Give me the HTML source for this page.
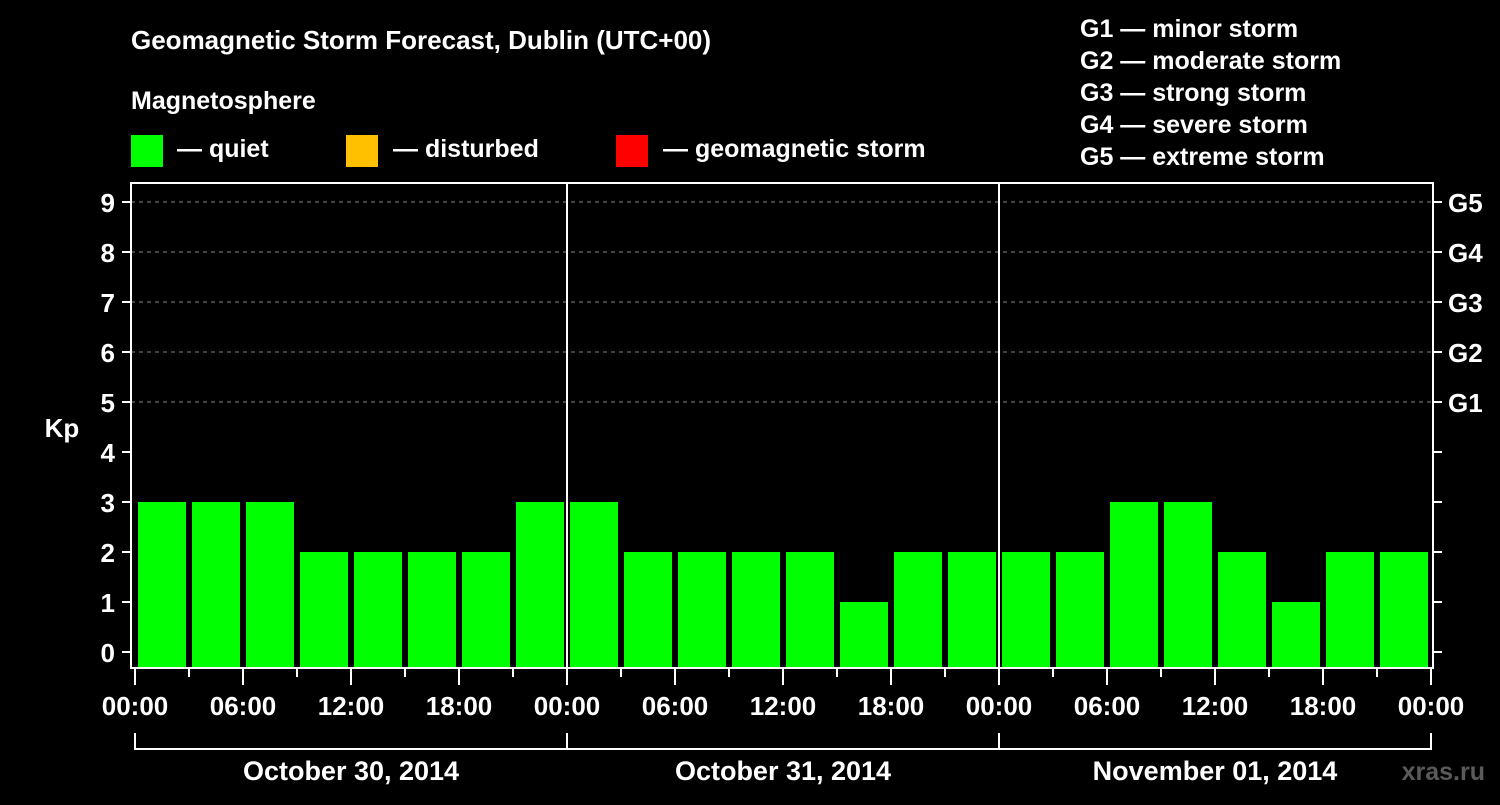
<!DOCTYPE html>
<html><head><meta charset="utf-8"><style>
html,body{margin:0;padding:0;background:#000;}
svg text{font-family:"Liberation Sans",Arial,sans-serif;font-weight:bold;fill:#fff;}
</style></head><body>
<svg id="chart" width="1500" height="800" viewBox="0 0 1500 800" xmlns="http://www.w3.org/2000/svg">
<rect width="1500" height="800" fill="#000"/>
<text x="131" y="49" font-size="26">Geomagnetic Storm Forecast, Dublin (UTC+00)</text>
<text x="131" y="109" font-size="25">Magnetosphere</text>
<g>
<rect x="131" y="135" width="32" height="32" fill="#00ff00"/>
<text x="177" y="157" font-size="25">— quiet</text>
<rect x="346" y="135" width="32" height="32" fill="#ffc000"/>
<text x="393" y="157" font-size="25">— disturbed</text>
<rect x="616" y="135" width="32" height="32" fill="#ff0000"/>
<text x="663" y="157" font-size="25">— geomagnetic storm</text>
</g>
<g font-size="25">
<text x="1080" y="37">G1 — minor storm</text>
<text x="1080" y="69">G2 — moderate storm</text>
<text x="1080" y="101">G3 — strong storm</text>
<text x="1080" y="133">G4 — severe storm</text>
<text x="1080" y="165">G5 — extreme storm</text>
</g>
<g id="grid"></g>
<g id="bars"></g>
<g id="axes"></g>
<text x="62" y="437" font-size="26" text-anchor="middle">Kp</text>
<text x="1485" y="780" font-size="25" text-anchor="end" fill="#555" style="fill:#5a5a5a">xras.ru</text>
</svg>
<script>
const kpValues = [3,3,3,2,2,2,2,3, 3,2,2,2,2,1,2,2, 2,2,3,3,2,1,2,2];
const dayLabels = ["October 30, 2014","October 31, 2014","November 01, 2014"];
const hourLabels = ["00:00","06:00","12:00","18:00"];
const yTicks = [0,1,2,3,4,5,6,7,8,9];
const gLabels = ["G1","G2","G3","G4","G5"];
const NS="http://www.w3.org/2000/svg";
const X0=135, DAYW=432, SLOT=54;
const yS=v=>652-50*v;
const xS=i=>X0+i*SLOT;
function mk(tag,attrs,parent){const e=document.createElementNS(NS,tag);for(const k in attrs)e.setAttribute(k,attrs[k]);parent.appendChild(e);return e;}
const grid=document.getElementById('grid'),bars=document.getElementById('bars'),axes=document.getElementById('axes');
// grid dashed lines for 5..9
gLabels.forEach((g,i)=>{const v=5+i;
 const l=mk('line',{x1:131,x2:1433,y1:yS(v),y2:yS(v),stroke:'#888','stroke-dasharray':'4,4','stroke-width':1},grid);
 
 
 const t=mk('text',{x:1448,y:yS(v)+10,'font-size':26},axes);t.textContent=g;
 
 
});
kpValues.forEach((v,i)=>{
 const col=v>=5?'#ff0000':(v>=4?'#ffc000':'#00ff00');
 const r=mk('rect',{x:xS(i)+3,y:yS(v),width:SLOT-6,height:667-yS(v),fill:col},bars);
 
 
});
// frame
const f=mk('rect',{x:131,y:183,width:1302,height:485,fill:'none',stroke:'#fff','stroke-width':2},axes);


// day dividers
for(let d=1;d<dayLabels.length;d++){
 const l=mk('line',{x1:X0+d*DAYW,x2:X0+d*DAYW,y1:183,y2:668,stroke:'#fff','stroke-width':2},axes);
 
 
}
yTicks.forEach(v=>{
 mk('line',{x1:122,x2:131,y1:yS(v),y2:yS(v),stroke:'#fff','stroke-width':2},axes);
 mk('line',{x1:1433,x2:1442,y1:yS(v),y2:yS(v),stroke:'#fff','stroke-width':2},axes);
 const t=mk('text',{x:115,y:yS(v)+10,'font-size':26,'text-anchor':'end'},axes);t.textContent=v;
 
 
});
// x ticks
for(let i=0;i<=kpValues.length;i++){
 const major=i%2===0;
 mk('line',{x1:xS(i),x2:xS(i),y1:669,y2:major?685:677,stroke:'#fff','stroke-width':2},axes);
 if(major){const t=mk('text',{x:xS(i),y:715,'font-size':26,'text-anchor':'middle'},axes);
  t.textContent=hourLabels[(i/2)%4];
  
  }
}
// day brackets
mk('line',{x1:X0,x2:X0+dayLabels.length*DAYW,y1:749,y2:749,stroke:'#fff','stroke-width':2},axes);
for(let d=0;d<=dayLabels.length;d++) mk('line',{x1:X0+d*DAYW,x2:X0+d*DAYW,y1:733,y2:750,stroke:'#fff','stroke-width':2},axes);
dayLabels.forEach((s,d)=>{const t=mk('text',{x:X0+d*DAYW+DAYW/2,y:780,'font-size':27,'text-anchor':'middle'},axes);t.textContent=s;
 
 });
</script>
</body></html>
